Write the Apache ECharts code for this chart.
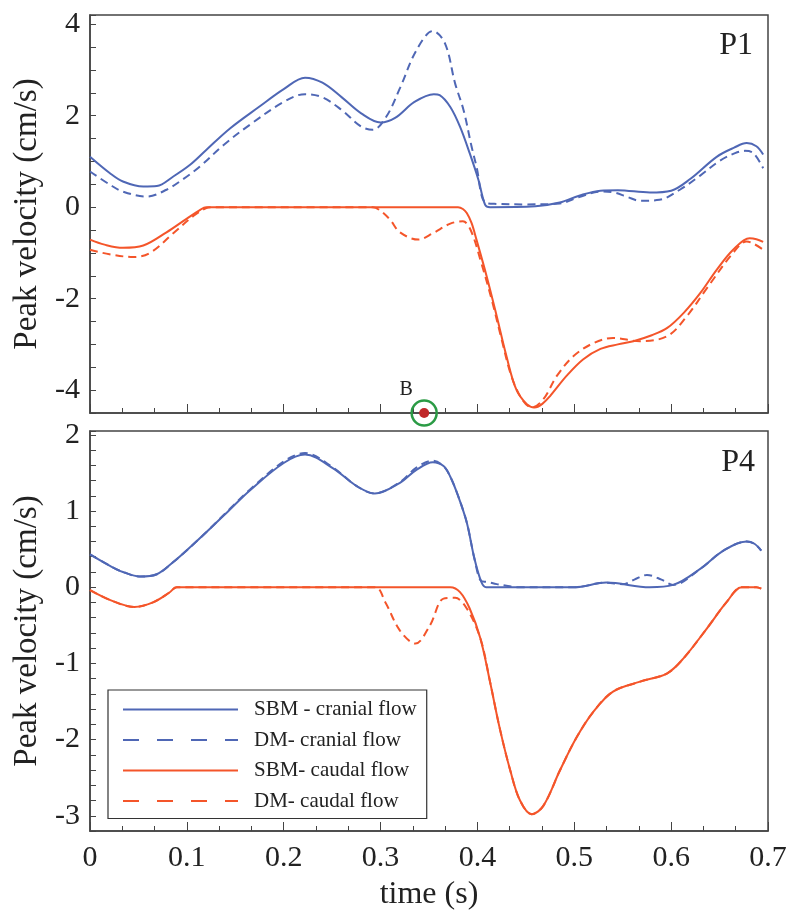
<!DOCTYPE html>
<html>
<head>
<meta charset="utf-8">
<script src="https://cdn.jsdelivr.net/npm/echarts@6/dist/echarts.min.js"></script>
<style>
  html, body { margin: 0; padding: 0; background: #fff; }
  #chart { width: 800px; height: 921px; }
</style>
</head>
<body>
<div id="chart"></div>
<script>
// time (s), peak velocity (cm/s)

// panel P1
const p1SbmCranial = [
  [0, 1.1], [0.0206, 0.74], [0.034, 0.56], [0.055, 0.45], [0.069, 0.46], [0.086, 0.67],
  [0.103, 0.92], [0.12, 1.25], [0.1445, 1.72], [0.175, 2.2], [0.2, 2.58], [0.222, 2.83],
  [0.24, 2.72], [0.26, 2.4], [0.28, 2.05], [0.3, 1.85], [0.315, 1.95], [0.335, 2.3],
  [0.355, 2.47], [0.361, 2.45], [0.372, 2.19], [0.382, 1.76], [0.392, 1.18], [0.401, 0.6],
  [0.408, 0.05], [0.413, 0.0], [0.46, 0.02], [0.485, 0.1], [0.505, 0.25], [0.527, 0.36],
  [0.545, 0.37], [0.578, 0.32], [0.6, 0.36], [0.62, 0.62], [0.647, 1.1], [0.665, 1.3],
  [0.678, 1.4], [0.688, 1.33], [0.695, 1.15]
]
const p1DmCranial = [
  [0, 0.78], [0.0206, 0.49], [0.034, 0.34], [0.0585, 0.23], [0.079, 0.38], [0.096, 0.61],
  [0.1136, 0.89], [0.138, 1.36], [0.165, 1.8], [0.2, 2.3], [0.222, 2.47],
  [0.24, 2.4], [0.26, 2.12], [0.28, 1.76], [0.292, 1.69], [0.306, 1.98], [0.32, 2.6],
  [0.337, 3.43], [0.354, 3.85], [0.3665, 3.58], [0.377, 2.7], [0.3857, 2.12], [0.394, 1.32],
  [0.399, 0.89], [0.408, 0.1], [0.42, 0.07], [0.45, 0.06], [0.485, 0.08], [0.505, 0.22],
  [0.527, 0.34], [0.541, 0.32], [0.555, 0.22], [0.568, 0.14], [0.588, 0.16], [0.609, 0.38],
  [0.63, 0.69], [0.65, 1.01], [0.666, 1.18], [0.676, 1.23], [0.685, 1.18], [0.695, 0.85]
]
const p1SbmCaudal = [
  [0, -0.71], [0.015, -0.82], [0.034, -0.89], [0.055, -0.84], [0.079, -0.55], [0.1, -0.25],
  [0.113, -0.07], [0.12, 0], [0.38, 0], [0.385, -0.04], [0.389, -0.13], [0.394, -0.35],
  [0.399, -0.71], [0.4095, -1.51], [0.42, -2.39], [0.43, -3.26], [0.44, -3.98], [0.451, -4.31],
  [0.459, -4.38], [0.467, -4.3], [0.475, -4.13], [0.492, -3.69], [0.509, -3.33], [0.527, -3.1],
  [0.545, -3.0], [0.561, -2.93], [0.58, -2.8], [0.596, -2.64], [0.613, -2.31], [0.63, -1.88],
  [0.647, -1.37], [0.664, -0.93], [0.681, -0.68], [0.688, -0.7], [0.695, -0.76]
]
const p1DmCaudal = [
  [0, -0.93], [0.02, -1.03], [0.045, -1.09], [0.062, -1.0], [0.086, -0.57], [0.107, -0.19],
  [0.12, -0.02], [0.125, 0], [0.292, 0], [0.3, -0.08], [0.31, -0.28], [0.32, -0.55],
  [0.339, -0.71], [0.354, -0.57], [0.372, -0.36], [0.385, -0.31], [0.393, -0.5], [0.404, -1.22],
  [0.4147, -2.02], [0.425, -2.89], [0.435, -3.69], [0.446, -4.2], [0.456, -4.38], [0.468, -4.2],
  [0.482, -3.69], [0.499, -3.26], [0.52, -2.97], [0.54, -2.86], [0.568, -2.93], [0.596, -2.82],
  [0.616, -2.39], [0.637, -1.77], [0.664, -1.0], [0.678, -0.75], [0.686, -0.81], [0.695, -0.93]
]

// panel P4
const p4SbmCranial = [
  [0, 0.43], [0.0206, 0.28], [0.034, 0.2], [0.0516, 0.14], [0.069, 0.17], [0.086, 0.33],
  [0.103, 0.52], [0.12, 0.72], [0.1445, 1.02], [0.165, 1.27], [0.2, 1.63], [0.222, 1.74],
  [0.251, 1.56], [0.275, 1.33], [0.294, 1.23], [0.32, 1.37], [0.337, 1.54], [0.354, 1.64],
  [0.365, 1.59], [0.372, 1.45], [0.38, 1.2], [0.389, 0.85], [0.397, 0.37], [0.404, 0.07],
  [0.409, 0], [0.5, 0], [0.533, 0.06], [0.578, 0], [0.602, 0.03], [0.63, 0.24],
  [0.654, 0.48], [0.678, 0.6], [0.686, 0.57], [0.693, 0.48]
]
const p4DmCranial = [
  [0, 0.43], [0.0206, 0.28], [0.034, 0.2], [0.0516, 0.14], [0.069, 0.17], [0.086, 0.33],
  [0.103, 0.52], [0.12, 0.72], [0.1445, 1.03], [0.165, 1.28], [0.2, 1.65], [0.222, 1.76],
  [0.251, 1.57], [0.275, 1.33], [0.294, 1.23], [0.32, 1.38], [0.337, 1.57], [0.354, 1.66],
  [0.365, 1.59], [0.372, 1.45], [0.38, 1.2], [0.389, 0.85], [0.397, 0.37], [0.404, 0.08],
  [0.41, 0.07], [0.42, 0.04], [0.43, 0.02], [0.44, 0], [0.5, 0], [0.533, 0.06],
  [0.55, 0.04], [0.562, 0.1], [0.575, 0.16], [0.59, 0.1], [0.602, 0.03], [0.63, 0.24],
  [0.654, 0.48], [0.678, 0.6], [0.686, 0.57], [0.693, 0.48]
]
const p4SbmCaudal = [
  [0, -0.04], [0.021, -0.17], [0.046, -0.26], [0.065, -0.2], [0.082, -0.07], [0.0895, 0],
  [0.372, 0], [0.382, -0.065], [0.392, -0.28], [0.403, -0.67], [0.413, -1.24], [0.423, -1.85],
  [0.434, -2.41], [0.444, -2.8], [0.456, -2.98], [0.468, -2.87], [0.485, -2.41], [0.502, -1.98],
  [0.52, -1.63], [0.54, -1.37], [0.568, -1.24], [0.596, -1.13], [0.613, -0.93], [0.637, -0.54],
  [0.657, -0.2], [0.673, 0], [0.688, 0], [0.693, -0.02]
]
const p4DmCaudal = [
  [0, -0.04], [0.021, -0.17], [0.046, -0.26], [0.065, -0.2], [0.082, -0.07], [0.0895, 0],
  [0.294, 0], [0.305, -0.2], [0.32, -0.57], [0.336, -0.74], [0.351, -0.5], [0.365, -0.15],
  [0.377, -0.14], [0.389, -0.28], [0.403, -0.67], [0.413, -1.24], [0.423, -1.85],
  [0.434, -2.41], [0.444, -2.8], [0.456, -2.98], [0.468, -2.87], [0.485, -2.41], [0.502, -1.98],
  [0.52, -1.63], [0.54, -1.37], [0.568, -1.24], [0.596, -1.13], [0.613, -0.93], [0.637, -0.54],
  [0.657, -0.2], [0.673, 0], [0.688, 0], [0.693, -0.02]
]

// point B on the time axis of P1
const markerB = [[0.345, -4.5]]

const seriesNames = ['SBM - cranial flow', 'DM- cranial flow', 'SBM- caudal flow', 'DM- caudal flow']

const BLUE = '#4f67b5'
const RED = '#f4552a'
const FONT = 'Liberation Serif'
const INK = '#222'
const AXIS = '#444'

function line(name, data, color, dashed, idx) {
  return {
    name: name,
    type: 'line',
    xAxisIndex: idx,
    yAxisIndex: idx,
    data: data,
    smooth: 0.35,
    symbol: 'none',
    lineStyle: { color: color, width: 2, type: dashed ? [8, 5] : 'solid' },
    itemStyle: { color: color },
    z: 3
  }
}

function xAxis(idx, showLabel) {
  return {
    type: 'value',
    gridIndex: idx,
    min: 0,
    max: 0.7,
    interval: 0.1,
    splitLine: { show: false },
    axisLine: { onZero: false, lineStyle: { color: AXIS, width: 1.5 } },
    axisTick: { inside: true, length: 9, lineStyle: { color: AXIS } },
    minorTick: { show: true, splitNumber: 3, length: 5, lineStyle: { color: AXIS } },
    axisLabel: {
      show: showLabel,
      margin: 12,
      fontFamily: FONT,
      fontSize: 30,
      color: INK,
      formatter: v => String(+v.toFixed(1))
    },
    name: showLabel ? 'time (s)' : '',
    nameLocation: 'middle',
    nameGap: 48,
    nameTextStyle: { fontFamily: FONT, fontSize: 32, color: INK }
  }
}

function yAxis(idx, min, max, step, labelEvery) {
  return {
    type: 'value',
    gridIndex: idx,
    min: min,
    max: max,
    interval: step,
    splitLine: { show: false },
    axisLine: { onZero: false, lineStyle: { color: AXIS, width: 1.5 } },
    axisTick: { inside: true, length: 6, lineStyle: { color: AXIS } },
    axisLabel: {
      margin: 10,
      fontFamily: FONT,
      fontSize: 30,
      color: INK,
      formatter: v => {
        const r = Math.round(v / labelEvery) * labelEvery
        return Math.abs(v - r) < 1e-6 ? String(r) : ''
      }
    },
    name: 'Peak velocity (cm/s)',
    nameLocation: 'middle',
    nameGap: 44,
    nameTextStyle: { fontFamily: FONT, fontSize: 33, color: INK }
  }
}

const chart = echarts.init(document.getElementById('chart'))

chart.setOption({
  backgroundColor: '#fff',
  animation: false,
  title: [
    { text: 'P1', right: 42, top: 25, textStyle: { fontFamily: FONT, fontSize: 32, fontWeight: 'normal', color: INK } },
    { text: 'P4', right: 40, top: 442, textStyle: { fontFamily: FONT, fontSize: 32, fontWeight: 'normal', color: INK } }
  ],
  grid: [
    { left: 90, top: 15, width: 678, height: 398, show: true, borderColor: AXIS, borderWidth: 1.5 },
    { left: 90, top: 431, width: 678, height: 400, show: true, borderColor: AXIS, borderWidth: 1.5 }
  ],
  xAxis: [xAxis(0, false), xAxis(1, true)],
  yAxis: [yAxis(0, -4.5, 4.2, 0.5, 2), yAxis(1, -3.2, 2.05, 0.2, 1)],
  legend: {
    orient: 'vertical',
    left: 108,
    top: 690,
    width: 317,
    padding: [9, 10, 7, 14],
    itemWidth: 115,
    itemHeight: 14,
    itemGap: 9.5,
    borderColor: '#333',
    borderWidth: 1.2,
    itemStyle: { opacity: 0 },
    textStyle: { fontFamily: FONT, fontSize: 21, color: INK, padding: [0, 0, 0, 11] },
    data: [
      { name: seriesNames[0], lineStyle: { type: 'solid' } },
      { name: seriesNames[1], lineStyle: { type: [16, 18] } },
      { name: seriesNames[2], lineStyle: { type: 'solid' } },
      { name: seriesNames[3], lineStyle: { type: [16, 18] } }
    ]
  },
  series: [
    line(seriesNames[0], p1SbmCranial, BLUE, false, 0),
    line(seriesNames[1], p1DmCranial, BLUE, true, 0),
    line(seriesNames[2], p1SbmCaudal, RED, false, 0),
    line(seriesNames[3], p1DmCaudal, RED, true, 0),
    line(seriesNames[0], p4SbmCranial, BLUE, false, 1),
    line(seriesNames[1], p4DmCranial, BLUE, true, 1),
    line(seriesNames[2], p4SbmCaudal, RED, false, 1),
    line(seriesNames[3], p4DmCaudal, RED, true, 1),
    {
      type: 'scatter',
      xAxisIndex: 0,
      yAxisIndex: 0,
      data: markerB,
      clip: false,
      symbolSize: 25,
      itemStyle: { color: 'rgba(0,0,0,0)', borderColor: '#2b9b45', borderWidth: 2.5, opacity: 1 },
      label: {
        show: true,
        position: 'top',
        offset: [-18, 5],
        formatter: 'B',
        fontFamily: FONT,
        fontSize: 20,
        color: INK
      },
      z: 10
    },
    {
      type: 'scatter',
      xAxisIndex: 0,
      yAxisIndex: 0,
      data: markerB,
      clip: false,
      symbolSize: 10,
      itemStyle: { color: '#c0282a', opacity: 1 },
      z: 11
    }
  ]
})
</script>
</body>
</html>
